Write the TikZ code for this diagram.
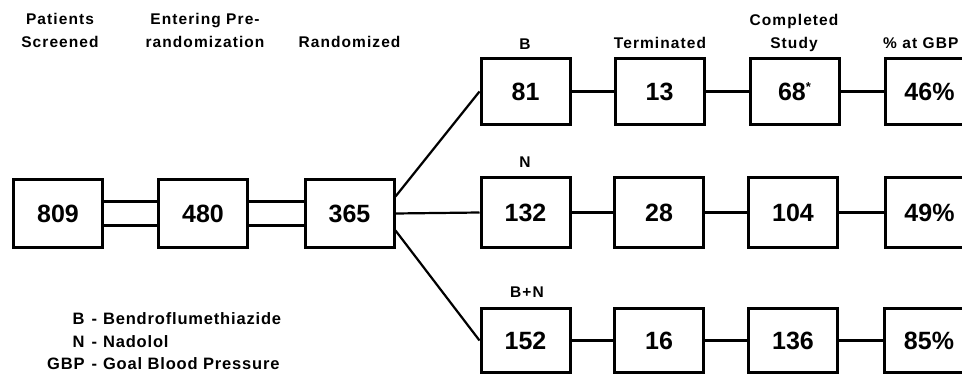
\documentclass[tikz,border=0pt]{standalone}
\usepackage{fontspec}
\setmainfont{Liberation Sans}
\newfontfamily\spaced{Liberation Sans}[LetterSpace=7]
\newfontfamily\keyfont{Liberation Sans}[LetterSpace=5]
\tikzset{
  box/.style={draw, line width=3pt, minimum width=89pt, inner sep=0pt,
    text height=17.9pt, text depth=0pt,
    font=\fontsize{25}{25}\selectfont\bfseries},
  toprow/.style={box, minimum height=66pt},
  midrow/.style={box, minimum height=70pt},
  botrow/.style={box, minimum height=64pt},
  leftrow/.style={box, minimum height=68pt},
  link/.style={line width=2.2pt},
  head/.style={font=\spaced\fontsize{15.5}{23}\selectfont\bfseries,
    inner sep=0pt, align=center, anchor=base},
  legend/.style={font=\keyfont\fontsize{16.5}{22.5}\selectfont\bfseries,
    inner sep=0pt, anchor=base west},
}
\begin{document}
\begin{tikzpicture}[x=1pt,y=-1pt]
\useasboundingbox (0,0) rectangle (962,374);
\clip (0,0) rectangle (962,374);

% column headings
\node[head] (hPat) at (60,48) {Patients\\Screened};
\node[head] (hPre) at (205,48) {Entering Pre-\\randomization};
\node[head] (hRnd) at (349.5,48) {Randomized};
\node[head] (hB) at (525,50) {B};
\node[head] (hTrm) at (660,49) {Terminated};
\node[head] (hCmp) at (794,49) {Completed\\Study};
\node[head, anchor=base west] (hGbp) at (883,49) {\% at GBP};
\node[head] (hN) at (525,168) {N};
\node[head] (hBN) at (527,298) {B+N};

% screening chain
\node[leftrow] (s1) at (58,213.5) {809};
\node[leftrow] (s2) at (203,213.5) {480};
\node[leftrow] (s3) at (349.5,213.5) {365};

% treatment arms
\node[toprow] (b1) at (525.5,91.5) {81};
\node[toprow] (b2) at (659.5,91.5) {13};
\node[toprow] (b3) at (794.5,91.5) {68\raisebox{0.35em}{\fontsize{13}{13}\selectfont*}};
\node[toprow] (b4) at (929.5,91.5) {46\%};

\node[midrow] (n1) at (525.5,212.5) {132};
\node[midrow] (n2) at (659,212.5) {28};
\node[midrow] (n3) at (793,212.5) {104};
\node[midrow] (n4) at (929.5,212.5) {49\%};

\node[botrow] (c1) at (525.5,340.5) {152};
\node[botrow] (c2) at (659,340.5) {16};
\node[botrow] (c3) at (793,340.5) {136};
\node[botrow] (c4) at (929,340.5) {85\%};

% double links in the screening chain
\foreach \a/\b in {s1/s2, s2/s3} {
  \draw[link] ([yshift=12pt]\a.east) -- ([yshift=12pt]\b.west);
  \draw[link] ([yshift=-12pt]\a.east) -- ([yshift=-12pt]\b.west);
}

% randomization branches
\draw[link] ([yshift=17pt]s3.east) -- (b1.west);
\draw[link] (s3.east) -- (n1.west);
\draw[link] ([yshift=-17pt]s3.east) -- (c1.west);

% follow-up links
\foreach \r in {b, n, c} {
  \draw[link] (\r1.east) -- (\r2.west);
  \draw[link] (\r2.east) -- (\r3.west);
  \draw[link] (\r3.east) -- (\r4.west);
}

% abbreviations
\node[legend] (key) at (47,325) {%
  \begin{tabular}[t]{@{}r@{\hspace{7pt}-\hspace{6pt}}l@{}}
  B & Bendroflumethiazide\\
  N & Nadolol\\
  GBP & Goal Blood Pressure
  \end{tabular}};
\end{tikzpicture}
\end{document}
